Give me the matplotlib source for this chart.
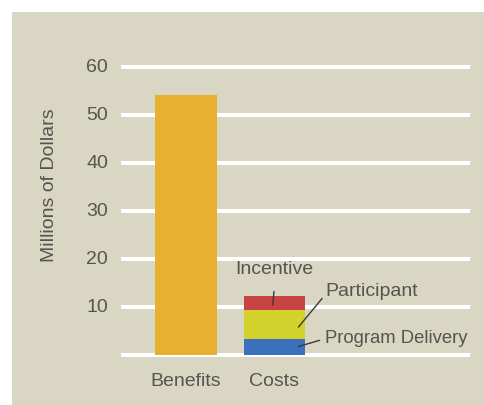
import matplotlib
matplotlib.use("Agg")
import matplotlib.pyplot as plt
from matplotlib.patches import Rectangle

categories = ["Benefits", "Costs"]
benefits = [54.2]
cost_parts = ["Program Delivery", "Participant", "Incentive"]
cost_values = [3.3, 6.0, 3.0]
yticks = [10, 20, 30, 40, 50, 60]

BG = "#d9d6c3"
TXT = "#55554f"
colors = {"Benefits": "#e8b030",
          "Program Delivery": "#3b70bd",
          "Participant": "#d3d22c",
          "Incentive": "#c74443"}
FS = 14

plt.rcParams["font.family"] = ["Liberation Sans", "DejaVu Sans"]

fig = plt.figure(figsize=(4.84, 4.05), dpi=100)
fig.patch.set_facecolor("white")
fig.add_artist(Rectangle((12 / 484, 0), 1, 1 - 12 / 405, transform=fig.transFigure,
                         facecolor=BG, edgecolor="none", zorder=0))

ax = fig.add_axes([121 / 484, 1 - 355 / 405, 349 / 484, 288 / 405])
ax.set_facecolor("none")
for s in ax.spines.values():
    s.set_visible(False)
ax.set_xlim(-0.735, 3.21)
ax.set_ylim(0, 60)

for y in [0] + yticks:
    ax.axhline(y, color="white", lw=2.9, zorder=1, clip_on=False, solid_capstyle="butt")

w = 0.70
ax.bar(0, benefits[0], width=w, color=colors["Benefits"], zorder=2)
bottom = 0
for name, v in zip(cost_parts, cost_values):
    ax.bar(1, v, width=w, bottom=bottom, color=colors[name], zorder=2)
    bottom += v

ax.set_xticks([])
ax.set_yticks([])
for y in yticks:
    ax.text(-0.88, y, str(y), ha="right", va="center", fontsize=FS, color=TXT)
for i, c in enumerate(categories):
    ax.text(i, -5.6, c, ha="center", va="center", fontsize=FS, color=TXT)

fig.text(50 / 484, 1 - 185 / 405, "Millions of Dollars", rotation=90,
         ha="center", va="center", fontsize=FS, color=TXT)

# callouts for the cost components
lo = cost_values[0]
mid = cost_values[0] + cost_values[1]
top = sum(cost_values)
lc = "#3a3a36"
ax.annotate("Incentive", xy=(0.98, mid + cost_values[2] / 2 - 0.4),
            xytext=(1.0, top + 5.6), ha="center", va="center",
            fontsize=FS, color=TXT,
            arrowprops=dict(arrowstyle="-", color=lc, lw=1.0, shrinkA=8, shrinkB=0,
                            relpos=(0.52, 0.5)))
ax.annotate("Participant", xy=(1.27, lo + 2.5), xytext=(1.57, top + 0.9),
            ha="left", va="center", fontsize=FS, color=TXT,
            arrowprops=dict(arrowstyle="-", color=lc, lw=1.0, shrinkA=0, shrinkB=0,
                            relpos=(0, 0.3)))
ax.annotate("Program Delivery", xy=(1.27, lo / 2 + 0.1), xytext=(1.57, lo + 0.1),
            ha="left", va="center", fontsize=13.3, color=TXT,
            arrowprops=dict(arrowstyle="-", color=lc, lw=1.0, shrinkA=2, shrinkB=0,
                            relpos=(0, 0.5)))

fig.savefig("out.png", dpi=100, facecolor=fig.get_facecolor())
